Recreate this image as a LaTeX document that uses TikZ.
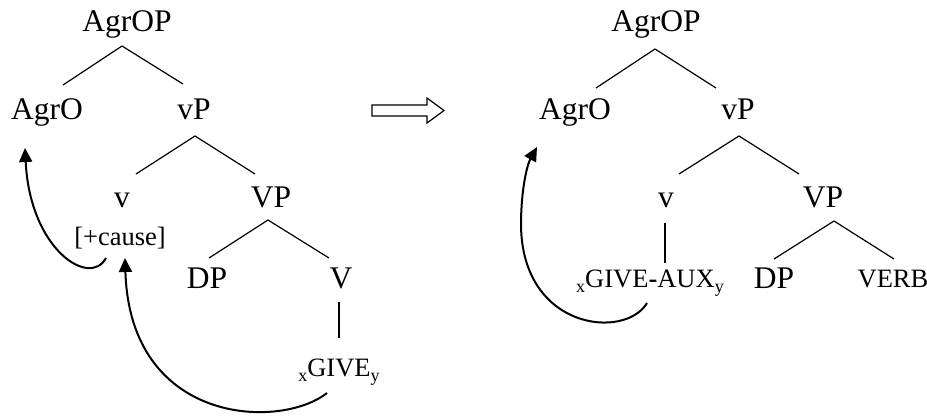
\documentclass[tikz,border=0pt]{standalone}
\usepackage{fontspec}
\setmainfont{Liberation Serif}
\usetikzlibrary{arrows.meta}
\newcommand\sbs[1]{\raisebox{-5pt}{\fontsize{18}{18}\selectfont #1}}
\begin{document}
\begin{tikzpicture}[x=1pt,y=-1pt,
  big/.style={font=\fontsize{31.5}{31.5}\selectfont, inner sep=0pt, anchor=base},
  small/.style={font=\fontsize{26.5}{26.5}\selectfont, inner sep=0pt, anchor=base},
  branch/.style={line width=1.2pt},
  move/.style={line width=2pt, -{Triangle[length=14pt,width=13pt]}}]
\useasboundingbox (0,0) rectangle (927,416);

% ---------- left tree ----------
\node[big] (LAgrOP) at (127,31) {AgrOP};
\node[big] (LAgrO) at (47,119) {AgrO};
\node[big] (LvP) at (194,119) {vP};
\node[big] (Lv) at (122,207) {v};
\node[small] (Lcause) at (120,245) {[+cause]};
\node[big] (LVP) at (271,207) {VP};
\node[big] (LDP) at (207,288) {DP};
\node[big] (LV) at (341,288) {V};
\node[small] (Lgive) at (339,376) {\sbs{x}GIVE\sbs{y}};

\draw[branch] ([shift={(16,-34)}]LAgrO.base) -- ([shift={(-5,15)}]LAgrOP.base) -- ([shift={(-11,-35)}]LvP.base);
\draw[branch] ([shift={(14,-33)}]Lv.base) -- ([shift={(1,17)}]LvP.base) -- ([shift={(-16,-33)}]LVP.base);
\draw[branch] ([shift={(2,-30)}]LDP.base) -- ([shift={(-3,13)}]LVP.base) -- ([shift={(-12,-30)}]LV.base);
\draw[branch] ([shift={(-2,14)}]LV.base) -- ([shift={(0,-38)}]Lgive.base);

\draw[move] ([shift={(-14,13)}]Lcause.base) .. controls (90,288) and (30,250) .. ([shift={(-22,29)}]LAgrO.base);
\draw[move] ([shift={(-12,17)}]Lgive.base) .. controls (280,430) and (130,425) .. ([shift={(5,13)}]Lcause.base);

% ---------- transformation arrow ----------
\draw[line width=1.2pt, line join=miter] (372,105) -- (427,105) -- (427,98) -- (444,110.5) -- (427,123) -- (427,116) -- (372,116) -- cycle;

% ---------- right tree ----------
\node[big] (RAgrOP) at (656,31) {AgrOP};
\node[big] (RAgrO) at (575,119) {AgrO};
\node[big] (RvP) at (738,119) {vP};
\node[big] (Rv) at (666,207) {v};
\node[big] (RVP) at (823,207) {VP};
\node[small] (Rgive) at (650,287) {\sbs{x}GIVE\textbf{-}AUX\sbs{y}};
\node[big] (RDP) at (774,288) {DP};
\node[small] (RVERB) at (893,287) {VERB};

\draw[branch] ([shift={(21,-31)}]RAgrO.base) -- ([shift={(-1,18)}]RAgrOP.base) -- ([shift={(-22,-31)}]RvP.base);
\draw[branch] ([shift={(13,-33)}]Rv.base) -- ([shift={(1,17)}]RvP.base) -- ([shift={(-24,-33)}]RVP.base);
\draw[branch] ([shift={(-1,16)}]Rv.base) -- ([shift={(15,-24)}]Rgive.base);
\draw[branch] ([shift={(0,-29)}]RDP.base) -- ([shift={(11,14)}]RVP.base) -- ([shift={(1,-28)}]RVERB.base);

\draw[move] ([shift={(-3,16)}]Rgive.base) .. controls (625,340) and (522,330) .. (521,225) .. controls (521,190) and (527,165) .. ([shift={(-38,28)}]RAgrO.base);
\end{tikzpicture}
\end{document}
